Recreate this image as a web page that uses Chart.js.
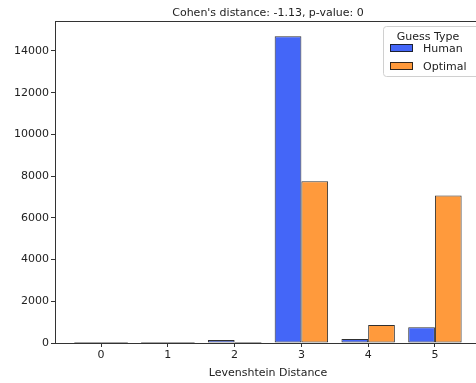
<!DOCTYPE html>
<html>
<head>
<meta charset="utf-8">
<script src="https://cdn.jsdelivr.net/npm/chart.js@4"></script>
<style>
  html, body { margin: 0; padding: 0; background: #fff; }
  #wrap { width: 476px; height: 383px; overflow: hidden; }
</style>
</head>
<body>
<div id="wrap"><canvas id="histChart" width="490" height="383"></canvas></div>
<script>
// Levenshtein distance counts, human vs optimal guesses
const distances = [0, 1, 2, 3, 4, 5];
const humanCounts = [0, 0, 140, 14700, 190, 760];
const optimalCounts = [0, 0, 0, 7750, 860, 7070];
const seriesNames = ['Human', 'Optimal'];
const seriesColors = ['#4466f8', '#ff9a3c'];
const yTicks = [0, 2000, 4000, 6000, 8000, 10000, 12000, 14000];

const titleText = "Cohen's distance: -1.13, p-value: 0";
const legendTitle = 'Guess Type';
const xLabel = 'Levenshtein Distance';
const font = 'DejaVu Sans';
const edgeColor = 'rgba(25,25,25,0.9)';

const toPoints = vals => distances.map((d, i) => ({ x: d, y: vals[i] }));

// empty bins still get their edge drawn along the baseline
const flatBars = {
  id: 'flatBars',
  afterDatasetsDraw(chart) {
    const ctx = chart.ctx;
    ctx.save();
    ctx.strokeStyle = 'rgba(120,120,120,0.9)';
    ctx.lineWidth = 1.5;
    chart.data.datasets.forEach((ds, di) => {
      chart.getDatasetMeta(di).data.forEach((bar, i) => {
        if (ds.data[i].y !== 0) return;
        ctx.beginPath();
        ctx.moveTo(bar.x - bar.width / 2, bar.base);
        ctx.lineTo(bar.x + bar.width / 2, bar.base);
        ctx.stroke();
      });
    });
    ctx.restore();
  }
};

// frame, title, x label and the legend box, drawn matplotlib-style
const decorations = {
  id: 'decorations',
  afterDraw(chart) {
    const { ctx, chartArea: a } = chart;
    ctx.save();
    ctx.strokeStyle = '#333';
    ctx.lineWidth = 1;
    ctx.strokeRect(Math.round(a.left) + 0.5, Math.round(a.top) + 0.5,
      Math.round(a.right - a.left), Math.round(a.bottom - a.top));

    ctx.fillStyle = '#222';
    ctx.font = '11px "' + font + '"';
    ctx.textAlign = 'center';
    ctx.textBaseline = 'middle';
    const cx = (a.left + a.right) / 2;
    ctx.fillText(titleText, cx, 13);
    ctx.fillText(xLabel, cx, 373);

    // legend
    const lx = 383, ly = 26;
    ctx.fillStyle = 'rgba(255,255,255,0.85)';
    ctx.strokeStyle = '#d0d0d0';
    ctx.beginPath();
    ctx.roundRect(lx + 0.5, ly + 0.5, 110, 50, 3);
    ctx.fill();
    ctx.stroke();
    ctx.fillStyle = '#222';
    ctx.fillText(legendTitle, 428, 37);
    ctx.textAlign = 'left';
    seriesNames.forEach((name, i) => {
      const y = 48 + i * 18;
      ctx.fillStyle = seriesColors[i];
      ctx.fillRect(390, y - 4, 23, 8);
      ctx.strokeStyle = edgeColor;
      ctx.strokeRect(390.5, y - 3.5, 22, 7);
      ctx.fillStyle = '#222';
      ctx.fillText(name, 423, y + 1);
    });
    ctx.restore();
  }
};

new Chart(document.getElementById('histChart').getContext('2d'), {
  type: 'bar',
  data: {
    datasets: [humanCounts, optimalCounts].map((vals, i) => ({
      label: seriesNames[i],
      data: toPoints(vals),
      backgroundColor: seriesColors[i],
      borderColor: edgeColor,
      borderWidth: 1,
      borderSkipped: false,
      barPercentage: 1.0,
      categoryPercentage: 0.8
    }))
  },
  options: {
    responsive: false,
    animation: false,
    layout: { padding: { top: 21, right: 9, left: 0, bottom: 0 } },
    plugins: { legend: { display: false }, title: { display: false }, tooltip: { enabled: false } },
    scales: {
      x: {
        type: 'linear',
        min: -0.69,
        max: 5.69,
        offset: false,
        afterFit: s => { s.height = 40; },
        afterBuildTicks: s => { s.ticks = distances.map(v => ({ value: v })); },
        ticks: { color: '#222', padding: 2, maxRotation: 0, callback: v => String(v), font: { family: font, size: 11 } },
        grid: { offset: false, drawOnChartArea: false, drawTicks: true, tickLength: 4, color: '#333' },
        border: { display: false }
      },
      y: {
        min: 0,
        max: 15435,
        afterFit: s => { s.width = 55; },
        afterBuildTicks: s => { s.ticks = yTicks.map(v => ({ value: v })); },
        ticks: { color: '#222', padding: 2, callback: v => String(v), font: { family: font, size: 11 } },
        grid: { drawOnChartArea: false, drawTicks: true, tickLength: 4, color: '#333' },
        border: { display: false }
      }
    }
  },
  plugins: [flatBars, decorations]
});
</script>
</body>
</html>
